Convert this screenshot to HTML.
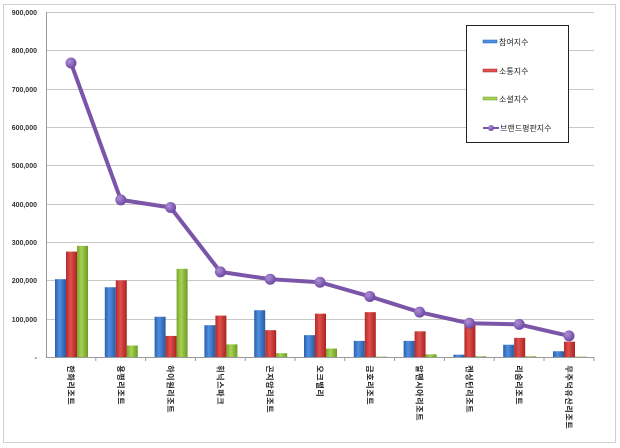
<!DOCTYPE html>
<html><head><meta charset="utf-8"><style>
body{margin:0;background:#fff;}
svg{display:block;font-family:"Liberation Sans","Noto Sans CJK KR",sans-serif;}
</style></head><body>
<svg width="620" height="448" viewBox="0 0 620 448">
<defs>
<linearGradient id="gb" x1="0" x2="1"><stop offset="0" stop-color="#2a5fae"/><stop offset=".4" stop-color="#4f8fe0"/><stop offset="1" stop-color="#2859a3"/></linearGradient>
<linearGradient id="gr" x1="0" x2="1"><stop offset="0" stop-color="#b22a28"/><stop offset=".4" stop-color="#e0504c"/><stop offset="1" stop-color="#a82422"/></linearGradient>
<linearGradient id="gg" x1="0" x2="1"><stop offset="0" stop-color="#78a42a"/><stop offset=".4" stop-color="#a8d255"/><stop offset="1" stop-color="#6e9a24"/></linearGradient>
<radialGradient id="gp" cx=".35" cy=".35" r=".7"><stop offset="0" stop-color="#b090d8"/><stop offset="1" stop-color="#6a44a0"/></radialGradient>
</defs>
<rect x="3.5" y="4.5" width="612" height="438" fill="#fff" stroke="#d0d0d0"/>
<g stroke="#c8c8c8" stroke-width="1">
<line x1="46" x2="594" y1="12.5" y2="12.5"/><line x1="46" x2="594" y1="50.5" y2="50.5"/><line x1="46" x2="594" y1="89.5" y2="89.5"/><line x1="46" x2="594" y1="127.5" y2="127.5"/><line x1="46" x2="594" y1="165.5" y2="165.5"/><line x1="46" x2="594" y1="204.5" y2="204.5"/><line x1="46" x2="594" y1="242.5" y2="242.5"/><line x1="46" x2="594" y1="280.5" y2="280.5"/><line x1="46" x2="594" y1="319.5" y2="319.5"/>
</g>
<line x1="46.5" x2="46.5" y1="12" y2="357" stroke="#999"/>
<line x1="46" x2="594" y1="357.5" y2="357.5" stroke="#999"/>
<g font-size="7" font-weight="bold" fill="#333" text-anchor="end">
<text x="37" y="15">900,000</text><text x="37" y="53">800,000</text><text x="37" y="92">700,000</text><text x="37" y="130">600,000</text><text x="37" y="168">500,000</text><text x="37" y="207">400,000</text><text x="37" y="245">300,000</text><text x="37" y="283">200,000</text><text x="37" y="322">100,000</text><text x="37" y="360">-</text>
</g>
<g id="bars"></g>
<g id="lbl" font-size="8" font-weight="bold" fill="#222"></g>
<polyline id="ln" fill="none" stroke="#7a55a8" stroke-width="4" stroke-linejoin="round"/>
<g id="dots"></g>
<rect x="466.5" y="25.5" width="102" height="117" fill="#fff" stroke="#222"/>
<rect x="483" y="40" width="14" height="3" fill="#4f8fe0" stroke="#2a5fae" stroke-width=".5"/>
<rect x="483" y="69" width="14" height="3" fill="#e0504c" stroke="#a82422" stroke-width=".5"/>
<rect x="483" y="97" width="14" height="3" fill="#a8d255" stroke="#6e9a24" stroke-width=".5"/>
<line x1="483" x2="499" y1="128" y2="128" stroke="#7a55a8" stroke-width="2"/><circle cx="491" cy="128" r="3" fill="url(#gp)"/>
<g font-size="8" fill="#222"><text x="499" y="45">참여지수</text><text x="499" y="74">소통지수</text><text x="499" y="102">소셜지수</text><text x="500" y="131">브랜드평판지수</text></g>
</svg>
<script>
const ns="http://www.w3.org/2000/svg";
const d=[["한화리조트",203,275,290,767],["용평리조트",182,200,30,410],["하이원리조트",105,55,230,390],["휘닉스파크",83,108,33,222],["곤지암리조트",122,70,10,203],["오크밸리",57,113,22,195],["금호리조트",42,117,1,158],["알펜시아리조트",42,67,7,117],["켄싱턴리조트",6,85,2,88],["리솜리조트",32,50,2,85],["무주덕유산리조트",15,40,1,55]];
const Y=v=>357-v*0.3833;
const B=document.getElementById("bars"),L=document.getElementById("lbl"),D=document.getElementById("dots");
let pts=[];
d.forEach((r,i)=>{const c=71+i*49.8;
["gb","gr","gg"].forEach((g,j)=>{const e=document.createElementNS(ns,"rect");const y=Y(r[j+1]);e.setAttribute("x",c-16+j*11);e.setAttribute("y",y);e.setAttribute("width",11);e.setAttribute("height",357-y);e.setAttribute("fill","url(#"+g+")");B.appendChild(e);});
const tk=document.createElementNS(ns,"line");tk.setAttribute("x1",46+(i+1)*49.8);tk.setAttribute("x2",46+(i+1)*49.8);tk.setAttribute("y1",357);tk.setAttribute("y2",361);tk.setAttribute("stroke","#999");B.appendChild(tk);
[...r[0]].forEach((ch,k)=>{const t=document.createElementNS(ns,"text");t.setAttribute("x",c);t.setAttribute("y",372+k*8);t.setAttribute("text-anchor","middle");t.setAttribute("transform","rotate(90 "+c+" "+(369+k*8)+")");t.textContent=ch;L.appendChild(t);});
pts.push(c+","+Y(r[4]));
const ci=document.createElementNS(ns,"circle");ci.setAttribute("cx",c);ci.setAttribute("cy",Y(r[4]));ci.setAttribute("r",5.5);ci.setAttribute("fill","url(#gp)");D.appendChild(ci);});
document.getElementById("ln").setAttribute("points",pts.join(" "));
</script>
</body></html>
